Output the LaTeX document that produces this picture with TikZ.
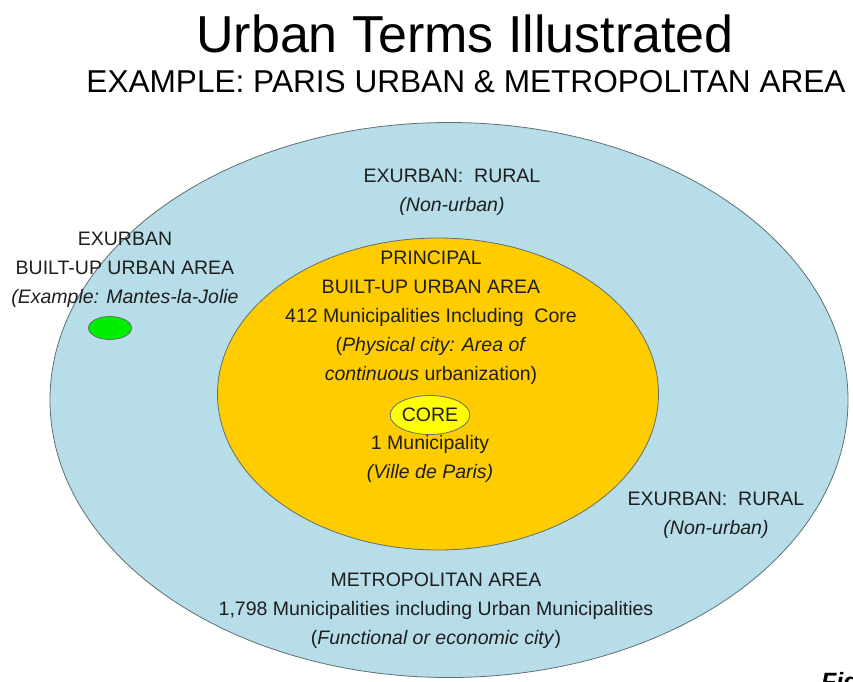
\documentclass[tikz,border=0pt]{standalone}
\usepackage{fontspec}
\setmainfont{Liberation Sans}
\usetikzlibrary{positioning,shapes.geometric}

\definecolor{metroblue}{HTML}{B7DDE8}
\definecolor{urbanorange}{HTML}{FFCC00}
\definecolor{coreyellow}{HTML}{FFFF00}
\definecolor{satgreen}{HTML}{00EE00}
\definecolor{zoneline}{HTML}{5F6F72}
\definecolor{inkgray}{HTML}{1E1E1E}

\begin{document}
\begin{tikzpicture}[x=1pt,y=-1pt,
    zone/.style={ellipse,draw=zoneline,line width=0.8pt,inner sep=0pt},
    blurb/.style={align=center,inner sep=0pt,text=inkgray,
      font=\fontsize{19.5}{29}\selectfont}]
        \useasboundingbox (0,0) rectangle (853,681);
        \clip (0,0) rectangle (853,681);

        \draw (465,34) node (title) {\fontsize{52}{52}\selectfont Urban Terms Illustrated};

        \draw (466,82) node (subtitle) {\fontsize{31.6}{31.6}\selectfont EXAMPLE: PARIS URBAN \& METROPOLITAN AREA};

        % nested areas
        \draw (449,400) node[zone,fill=metroblue,minimum width=798,minimum height=555] (metro) {};

        \draw (438,394) node[zone,fill=urbanorange,minimum width=441,minimum height=312] (principal) {};

        \draw (110,328) node[zone,fill=satgreen,minimum width=43,minimum height=23] (mantes) {};

        \draw (430,415) node[zone,fill=coreyellow,minimum width=65,minimum height=39,
          font=\fontsize{19.5}{19.5}\selectfont,text=inkgray] (core) {CORE};

        % area texts
        \draw (452,192) node[blurb] (ruraltop) {EXURBAN:\ \ RURAL\\\textit{(Non-urban)}};

        \draw (125,270) node[blurb] (exurbtext) {EXURBAN\\BUILT-UP URBAN AREA\\\textit{(Example: Mantes-la-Jolie}};

        \draw (431,318) node[blurb] (principaltext) {PRINCIPAL\\BUILT-UP URBAN AREA\\412 Municipalities Including\ \ Core\\(\textit{Physical city: Area of}\\\textit{continuous} urbanization)};

        \draw (430,459) node[blurb] (coretext) {1 Municipality\\\textit{(Ville de Paris)}};

        \draw (716,515) node[blurb] (ruralright) {EXURBAN:\ \ RURAL\\\textit{(Non-urban)}};

        \draw (436,611) node[blurb] (metrotext) {METROPOLITAN AREA\\1,798 Municipalities including Urban Municipalities\\(\textit{Functional or economic city})};

        \draw (821,672) node[anchor=north west,inner sep=0pt] (fig) {\fontsize{25}{25}\selectfont\textbf{\textit{Figure}}};
      \end{tikzpicture}
\end{document}
